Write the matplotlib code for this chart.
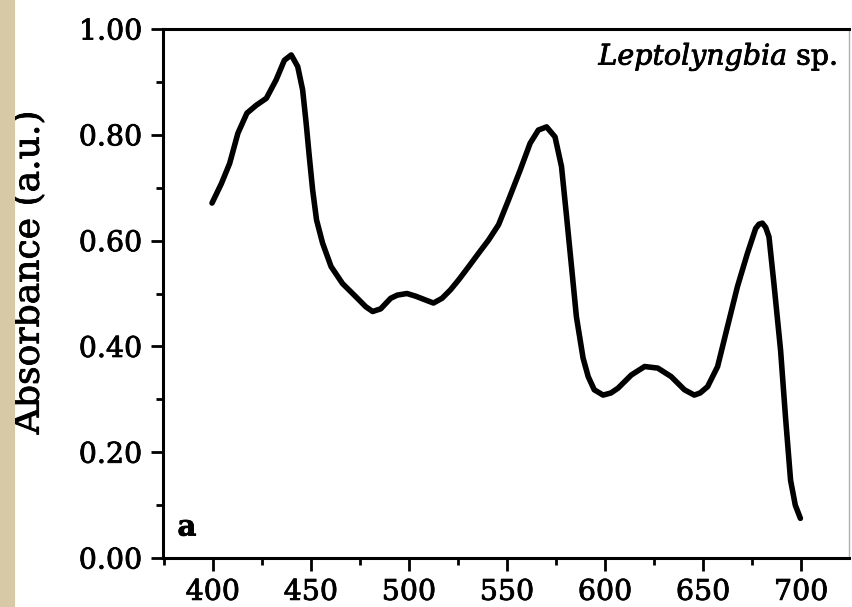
import matplotlib
matplotlib.use("Agg")
import matplotlib.pyplot as plt
import matplotlib.patheffects as pe
from matplotlib.patches import Rectangle
from matplotlib.ticker import MultipleLocator

plt.rcParams["font.family"] = "DejaVu Serif"
plt.rcParams["mathtext.fontset"] = "dejavuserif"

# absorption spectrum, values
wavelength = [399.6, 404.4, 408.6, 412.8, 417.4, 422.2, 427.3, 432.3, 436.5, 440.0,
              443.3, 445.8, 447.6, 449.2, 450.9, 452.9, 456.0, 460.3, 466.1, 472.9,
              478.0, 481.5, 485.6, 490.7, 494.1, 499.0, 503.4, 507.6, 512.5, 516.9,
              521.2, 525.4, 530.5, 535.5, 540.6, 545.7, 550.8, 556.7, 561.8, 566.0,
              570.2, 574.5, 577.8, 580.4, 582.9, 585.4, 588.8, 591.4, 594.5, 599.0,
              603.0, 606.6, 613.4, 620.2, 626.9, 633.7, 640.5, 645.5, 648.5, 652.3,
              657.4, 662.4, 667.5, 672.6, 676.8, 678.5, 680.2, 681.9, 683.6, 686.1,
              689.5, 692.0, 694.6, 697.0, 699.6]
absorbance = [0.671, 0.708, 0.746, 0.803, 0.841, 0.856, 0.869, 0.904, 0.941, 0.951,
              0.929, 0.885, 0.822, 0.759, 0.696, 0.639, 0.595, 0.551, 0.519, 0.494,
              0.475, 0.466, 0.471, 0.491, 0.497, 0.500, 0.495, 0.489, 0.482, 0.491,
              0.507, 0.526, 0.551, 0.576, 0.601, 0.630, 0.677, 0.733, 0.784, 0.809,
              0.815, 0.796, 0.740, 0.645, 0.551, 0.456, 0.378, 0.343, 0.318, 0.308,
              0.312, 0.321, 0.346, 0.362, 0.359, 0.343, 0.318, 0.308, 0.312, 0.324,
              0.362, 0.437, 0.513, 0.576, 0.623, 0.631, 0.633, 0.625, 0.607, 0.519,
              0.393, 0.267, 0.147, 0.100, 0.075]

xticks = [400, 450, 500, 550, 600, 650, 700]
yticks = [0.0, 0.2, 0.4, 0.6, 0.8, 1.0]

fig = plt.figure(figsize=(8.52, 6.07), dpi=100)
# beige page edge on the left
fig.patches.append(Rectangle((0, 0), 15 / 852, 1, transform=fig.transFigure,
                             facecolor="#d8c9a6", edgecolor="none"))
ax = fig.add_axes([0.1913, 0.0807, 0.8052, 0.8715])

ax.plot(wavelength, absorbance, color="black", lw=4.0, solid_capstyle="round",
        solid_joinstyle="round")

ax.set_xlim(374.6, 724.4)
ax.set_ylim(0, 1.0)
ax.set_xticks(xticks)
ax.set_yticks(yticks)
ax.set_yticklabels([f"{v:.2f}" for v in yticks])
ax.xaxis.set_minor_locator(MultipleLocator(25))
ax.yaxis.set_minor_locator(MultipleLocator(0.1))
ax.tick_params(which="major", direction="out", length=9, width=2, labelsize=20.5, pad=6)
ax.tick_params(which="minor", direction="out", length=5, width=2)
ax.tick_params(top=False, right=False)

for s in ["left", "bottom", "top"]:
    ax.spines[s].set_linewidth(2.2)
ax.spines["right"].set_linewidth(1.0)
ax.spines["right"].set_color("#b0b0b0")

ax.set_ylabel("Absorbance (a.u.)", fontsize=26)
ax.yaxis.set_label_coords(-0.171, 0.54)
ax.text(0.984, 0.947, r"$\it{Leptolyngbia}$ sp.", transform=ax.transAxes,
        ha="right", va="center", fontsize=20.5)
ax.text(0.035, 0.0586, "a", transform=ax.transAxes, ha="center", va="center",
        fontsize=21, fontweight="bold")

# the printed serif face is a little heavier than DejaVu Serif
heavy = [pe.withStroke(linewidth=0.6, foreground="black")]
for t in ax.get_xticklabels() + ax.get_yticklabels() + [ax.yaxis.label] + ax.texts:
    t.set_path_effects(heavy)

fig.savefig("out.png", dpi=100)
